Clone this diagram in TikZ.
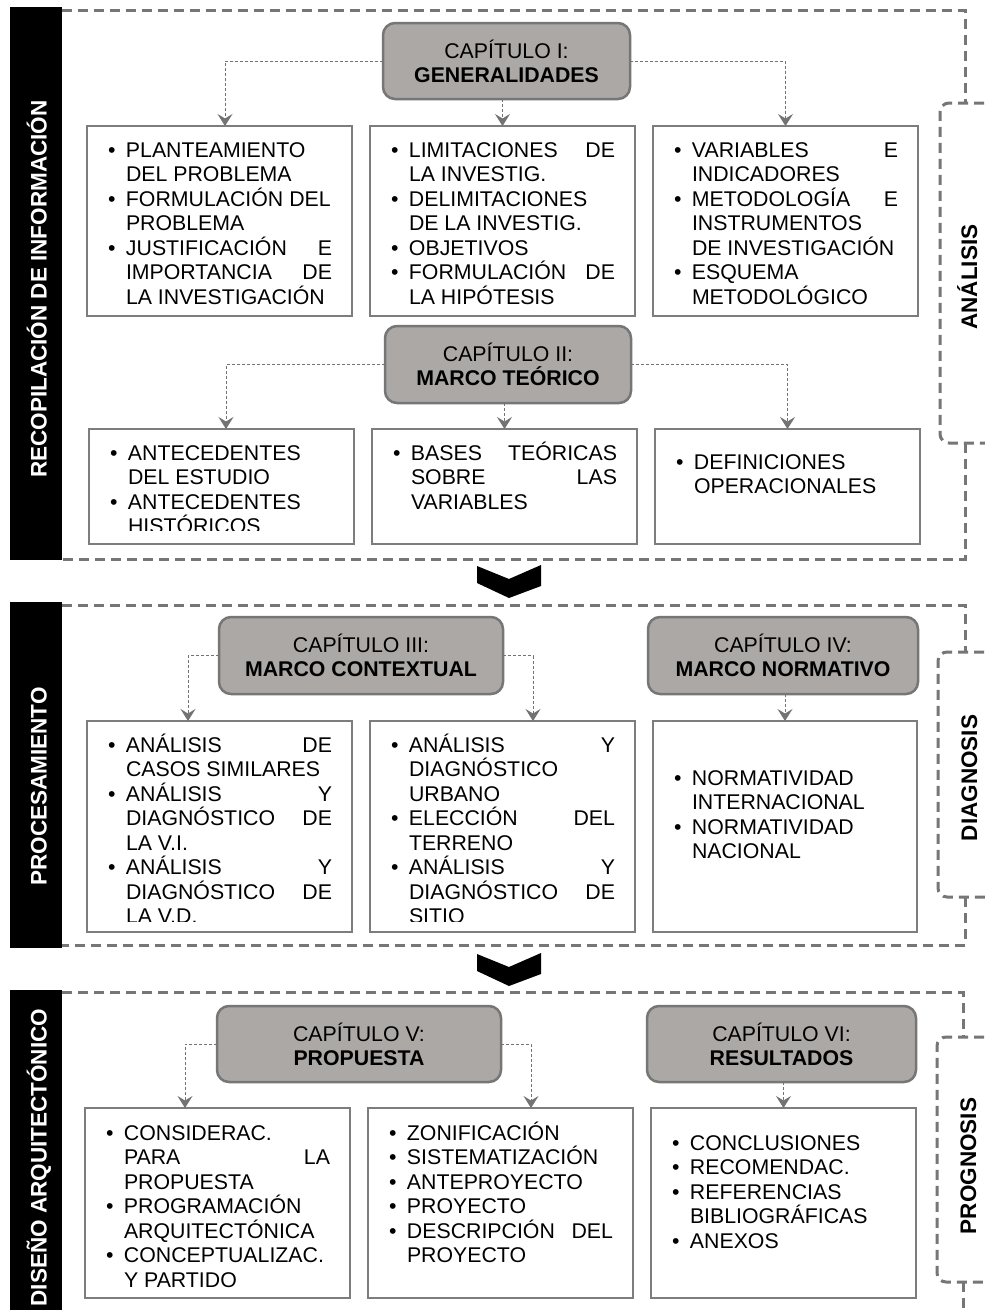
\documentclass[tikz,border=0pt]{standalone}
\usepackage{fontspec}
\setmainfont{Liberation Sans}
\usetikzlibrary{arrows.meta,calc}
\definecolor{frameg}{RGB}{118,118,118}
\definecolor{boxg}{RGB}{125,125,125}
\definecolor{capfill}{RGB}{171,168,166}
\definecolor{capdraw}{RGB}{118,118,118}
\definecolor{conng}{RGB}{115,115,115}
\newlength\tw \setlength\tw{206pt}
\newcommand\bl[1]{\hbox{\hbox to 18pt{•\hss}\hbox to \tw{#1}}}
\newcommand\cl[1]{\hbox{\hskip18pt\hbox to \tw{#1}}}
\newcommand\lns[1]{\vtop{\baselineskip=24.5pt\lineskiplimit=-100pt\lineskip=0pt #1}}
\newcommand\bodyfont{\fontsize{21.3pt}{24.5pt}\selectfont}
\newcommand\capfont{\fontsize{21.3pt}{24pt}\selectfont}
\newcommand\labfont{\fontsize{22.5pt}{26pt}\selectfont\bfseries}
\tikzset{
  framedash/.style={draw=frameg, line width=3pt, dash pattern=on 10pt off 6pt},
  capbox/.style={draw=capdraw, fill=capfill, line width=2.5pt, rounded corners=12pt,
    anchor=north west, align=center, font=\capfont, inner sep=0pt, outer sep=0pt},
  cbox/.style={draw=boxg, fill=white, line width=2.5pt, anchor=north west,
    inner sep=0pt, outer sep=0pt},
  txtnode/.style={inner sep=0pt, outer sep=0pt, anchor=base west, font=\bodyfont},
  connline/.style={draw=conng, line width=1pt, dash pattern=on 3pt off 2pt,
    -{Stealth[length=12pt,width=15pt,inset=4.5pt]}},
  leftlab/.style={text=white, font=\labfont, rotate=90, anchor=base, inner sep=0pt},
  rightlab/.style={text=black, font=\labfont, rotate=90, anchor=base, inner sep=0pt}
}
\begin{document}
\begin{tikzpicture}[x=1pt,y=-1pt]
\useasboundingbox (0,0) rectangle (985,1310);
\fill[white] (0,0) rectangle (985,1310);

% ---------- black side bars ----------
\fill[black] (10,7) rectangle (62,560);
\fill[black] (10,602) rectangle (62,948);
\fill[black] (10,990) rectangle (62,1320);
\node[leftlab] (lab1) at (46.5,289) {RECOPILACIÓN DE INFORMACIÓN};
\node[leftlab] (lab2) at (46.5,786.5) {PROCESAMIENTO};
\node[leftlab] (lab3) at (46.5,1157.5) {DISEÑO ARQUITECTÓNICO};

% ---------- dashed frames ----------
\draw[framedash] (62,10) -- (965,10) -- (965,103);
\draw[framedash, rounded corners=9pt] (1000,103) -- (940,103) -- (940,443) -- (1000,443);
\draw[framedash] (965,443) -- (965,559) -- (62,559);

\draw[framedash] (62,605) -- (965,605) -- (965,652);
\draw[framedash, rounded corners=9pt] (1000,652) -- (938,652) -- (938,897) -- (1000,897);
\draw[framedash] (965,897) -- (965,945) -- (62,945);

\draw[framedash] (62,992) -- (963,992) -- (963,1037);
\draw[framedash, rounded corners=9pt] (1000,1037) -- (937,1037) -- (937,1282) -- (1000,1282);
\draw[framedash] (963,1282) -- (963,1320);

\node[rightlab] (r1) at (977,277) {ANÁLISIS};
\node[rightlab] (r2) at (977,778) {DIAGNOSIS};
\node[rightlab] (r3) at (976,1166) {PROGNOSIS};

% ---------- chevrons ----------
\fill[black] (477,566) -- (509,579) -- (541,565) -- (541,586) -- (509,598) -- (477,583) -- cycle;
\fill[black] (477,954) -- (509,967) -- (541,953) -- (541,974) -- (509,986) -- (477,971) -- cycle;

% ---------- chapter boxes ----------
\node[capbox, minimum width=247pt, minimum height=76pt] (c1) at (383,23) {CAPÍTULO I:\\\textbf{GENERALIDADES}};
\node[capbox, minimum width=246pt, minimum height=77pt] (c2) at (385,326) {CAPÍTULO II:\\\textbf{MARCO TEÓRICO}};
\node[capbox, minimum width=284pt, minimum height=77pt] (c3) at (219,617) {CAPÍTULO III:\\\textbf{MARCO CONTEXTUAL}};
\node[capbox, minimum width=270pt, minimum height=77pt] (c4) at (648,617) {CAPÍTULO IV:\\\textbf{MARCO NORMATIVO}};
\node[capbox, minimum width=284pt, minimum height=76pt] (c5) at (217,1006) {CAPÍTULO V:\\\textbf{PROPUESTA}};
\node[capbox, minimum width=269pt, minimum height=76pt] (c6) at (647,1006) {CAPÍTULO VI:\\\textbf{RESULTADOS}};

% ---------- content boxes ----------
\node[cbox, minimum width=265pt, minimum height=190pt] (b11) at (87,126) {};
\node[cbox, minimum width=265pt, minimum height=190pt] (b12) at (370,126) {};
\node[cbox, minimum width=265pt, minimum height=190pt] (b13) at (653,126) {};
\node[cbox, minimum width=265pt, minimum height=115pt] (b21) at (89,429) {};
\node[cbox, minimum width=265pt, minimum height=115pt] (b22) at (372,429) {};
\node[cbox, minimum width=265pt, minimum height=115pt] (b23) at (655,429) {};
\node[cbox, minimum width=265pt, minimum height=211pt] (b31) at (87,721) {};
\node[cbox, minimum width=265pt, minimum height=211pt] (b32) at (370,721) {};
\node[cbox, minimum width=264pt, minimum height=211pt] (b33) at (653,721) {};
\node[cbox, minimum width=265pt, minimum height=190pt] (b41) at (85,1108) {};
\node[cbox, minimum width=265pt, minimum height=190pt] (b42) at (368,1108) {};
\node[cbox, minimum width=265pt, minimum height=190pt] (b43) at (651,1108) {};

% ---------- connectors ----------
\draw[connline] (c1.west) -| ([xshift=5.5pt]b11.north);
\draw[connline] (c1.south -| b12.north) -- (b12.north);
\draw[connline] (c1.east) -| (b13.north);
\draw[connline] (c2.west) -| ([xshift=4.5pt]b21.north);
\draw[connline] (c2.south -| b22.north) -- (b22.north);
\draw[connline] (c2.east) -| (b23.north);
\draw[connline] (c3.west) -| ([xshift=-31.5pt]b31.north);
\draw[connline] (c3.east) -| ([xshift=30.5pt]b32.north);
\draw[connline] (c4.south -| b33.north) -- (b33.north);
\draw[connline] (c5.west) -| ([xshift=-32.5pt]b41.north);
\draw[connline] (c5.east) -| ([xshift=30.5pt]b42.north);
\draw[connline] (c6.south -| b43.north) -- (b43.north);

% ---------- texts ----------
\node[txtnode] (t11) at ($(b11.north west)+(21,31)$) {\lns{%
  \bl{PLANTEAMIENTO\hfil}
  \cl{DEL PROBLEMA\hfil}
  \bl{FORMULACIÓN DEL\hfil}
  \cl{PROBLEMA\hfil}
  \bl{JUSTIFICACIÓN\hfill E}
  \cl{IMPORTANCIA\hfill DE}
  \cl{LA INVESTIGACIÓN\hfil}}};
\node[txtnode] (t12) at ($(b12.north west)+(21,31)$) {\lns{%
  \bl{LIMITACIONES\hfill DE}
  \cl{LA INVESTIG.\hfil}
  \bl{DELIMITACIONES\hfil}
  \cl{DE LA INVESTIG.\hfil}
  \bl{OBJETIVOS\hfil}
  \bl{FORMULACIÓN\hfill DE}
  \cl{LA HIPÓTESIS\hfil}}};
\node[txtnode] (t13) at ($(b13.north west)+(21,31)$) {\lns{%
  \bl{VARIABLES\hfill E}
  \cl{INDICADORES\hfil}
  \bl{METODOLOGÍA\hfill E}
  \cl{INSTRUMENTOS\hfil}
  \cl{DE INVESTIGACIÓN\hfil}
  \bl{ESQUEMA\hfil}
  \cl{METODOLÓGICO\hfil}}};

\begin{scope}
\clip (b21.north west) rectangle ($(b21.south east)+(0,-14)$);
\node[txtnode] (t21) at ($(b21.north west)+(21,31)$) {\lns{%
  \bl{ANTECEDENTES\hfil}
  \cl{DEL ESTUDIO\hfil}
  \bl{ANTECEDENTES\hfil}
  \cl{HISTÓRICOS\hfil}}};
\end{scope}
\node[txtnode] (t22) at ($(b22.north west)+(21,31)$) {\lns{%
  \bl{BASES\hfill TEÓRICAS}
  \cl{SOBRE\hfill LAS}
  \cl{VARIABLES\hfil}}};
\node[txtnode] (t23) at ($(b23.north west)+(21,40)$) {\lns{%
  \bl{DEFINICIONES\hfil}
  \cl{OPERACIONALES\hfil}}};

\begin{scope}
\clip (b31.north west) rectangle ($(b32.south east)+(0,-11)$);
\node[txtnode] (t31) at ($(b31.north west)+(21,31)$) {\lns{%
  \bl{ANÁLISIS\hfill DE}
  \cl{CASOS SIMILARES\hfil}
  \bl{ANÁLISIS\hfill Y}
  \cl{DIAGNÓSTICO\hfill DE}
  \cl{LA V.I.\hfil}
  \bl{ANÁLISIS\hfill Y}
  \cl{DIAGNÓSTICO\hfill DE}
  \cl{LA V.D.\hfil}}};
\node[txtnode] (t32) at ($(b32.north west)+(21,31)$) {\lns{%
  \bl{ANÁLISIS\hfill Y}
  \cl{DIAGNÓSTICO\hfil}
  \cl{URBANO\hfil}
  \bl{ELECCIÓN\hfill DEL}
  \cl{TERRENO\hfil}
  \bl{ANÁLISIS\hfill Y}
  \cl{DIAGNÓSTICO\hfill DE}
  \cl{SITIO\hfil}}};
\end{scope}
\node[txtnode] (t33) at ($(b33.north west)+(21,64)$) {\lns{%
  \bl{NORMATIVIDAD\hfil}
  \cl{INTERNACIONAL\hfil}
  \bl{NORMATIVIDAD\hfil}
  \cl{NACIONAL\hfil}}};

\node[txtnode] (t41) at ($(b41.north west)+(21,32)$) {\lns{%
  \bl{CONSIDERAC.\hfil}
  \cl{PARA\hfill LA}
  \cl{PROPUESTA\hfil}
  \bl{PROGRAMACIÓN\hfil}
  \cl{ARQUITECTÓNICA\hfil}
  \bl{CONCEPTUALIZAC.\hfil}
  \cl{Y PARTIDO\hfil}}};
\node[txtnode] (t42) at ($(b42.north west)+(21,32)$) {\lns{%
  \bl{ZONIFICACIÓN\hfil}
  \bl{SISTEMATIZACIÓN\hfil}
  \bl{ANTEPROYECTO\hfil}
  \bl{PROYECTO\hfil}
  \bl{DESCRIPCIÓN\hfill DEL}
  \cl{PROYECTO\hfil}}};
\node[txtnode] (t43) at ($(b43.north west)+(21,42)$) {\lns{%
  \bl{CONCLUSIONES\hfil}
  \bl{RECOMENDAC.\hfil}
  \bl{REFERENCIAS\hfil}
  \cl{BIBLIOGRÁFICAS\hfil}
  \bl{ANEXOS\hfil}}};
\end{tikzpicture}
\end{document}
